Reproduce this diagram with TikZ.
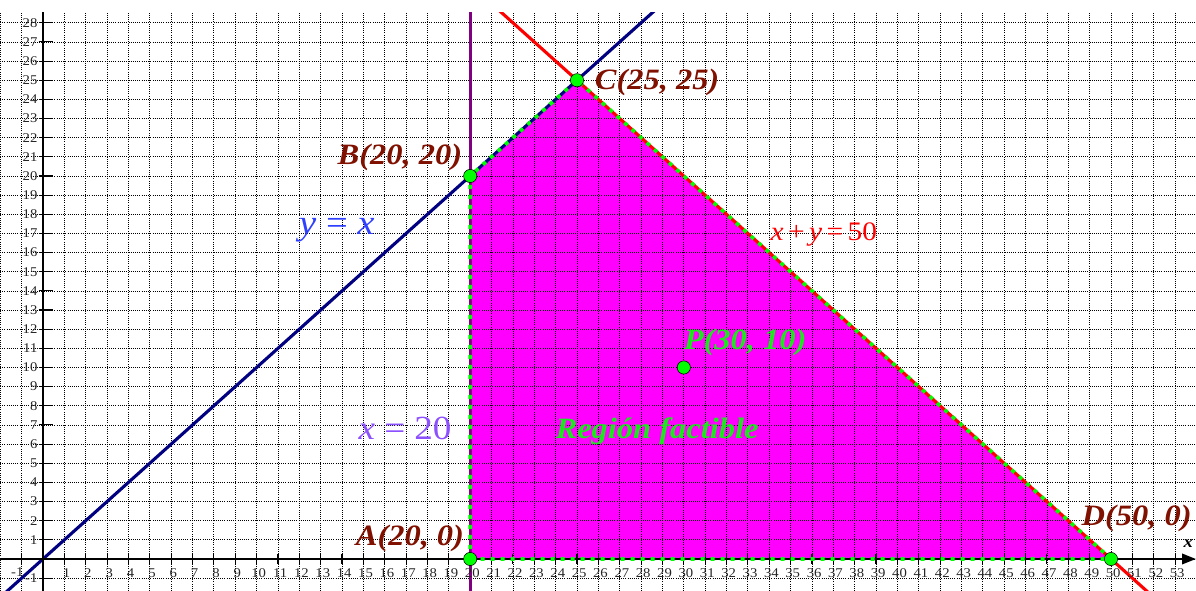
\documentclass[tikz,border=0pt]{standalone}
\usepackage{fontspec}
\setmainfont{Liberation Serif}
\newfontfamily\geofont[FakeStretch=1.1]{Liberation Serif}
\usetikzlibrary{arrows.meta}
\definecolor{navyline}{RGB}{0,0,128}
\definecolor{redline}{RGB}{255,0,0}
\definecolor{purpleline}{RGB}{128,0,128}
\definecolor{regionfill}{RGB}{255,0,255}
\definecolor{limegreen}{RGB}{0,255,0}
\definecolor{labelred}{RGB}{128,16,0}
\definecolor{labelblue}{RGB}{48,64,255}
\definecolor{labelviolet}{RGB}{140,80,255}
\definecolor{labelgreen}{RGB}{30,230,30}
\tikzset{
  gridline/.style={densely dotted, line width=0.55pt},
  vertexdot/.style={circle, fill=limegreen, draw=black, line width=0.4pt, minimum size=0.33cm, inner sep=0pt},
  vertexlabel/.style={font=\geofont\bfseries\itshape\fontsize{21}{21}\selectfont, text=labelred},
  eqlabel/.style={font=\geofont\fontsize{#1}{#1}\selectfont},
  ticklabel/.style={font=\geofont\fontsize{9.5}{9.5}\selectfont, text=black!85, inner sep=0pt}
}

\begin{document}
\begin{tikzpicture}[x=0.534cm, y=0.47875cm, >=Stealth]
  \useasboundingbox (-2.013,-1.671) rectangle (53.98,29.19);
  \coordinate (A) at (20,0);
  \coordinate (B) at (20,20);
  \coordinate (C) at (25,25);
  \coordinate (D) at (50,0);
  % feasible region
  \fill[regionfill] (A) -- (B) -- (C) -- (D) -- cycle;
  \begin{scope}
    \clip (-2.013,-1.671) rectangle (53.98,28.56);
    \foreach \x in {-2,...,53} { \draw[gridline] (\x,-1.671) -- (\x,28.56); }
    \foreach \y in {-1,...,28} { \draw[gridline] (-2.013,\y) -- (53.98,\y); }
    \draw[navyline, line width=2.2pt] (-2,-2) -- (29,29);
    \draw[redline, line width=2.2pt] (21,29) -- (52,-2);
    \draw[purpleline, line width=2.2pt] (20,-2) -- (20,29);
  \end{scope}
  % axes
  \draw[line width=1.6pt, -{Triangle[length=3.5mm,width=2.6mm]}] (-2.013,0) -- (53.98,0);
  \draw[line width=1.6pt] (0,-1.671) -- (0,28.56);
  \node[ticklabel, anchor=north] (xtickneg) at (-1.2,-0.45) {-1};
  \foreach \x in {1,2,...,53} {
    \draw[line width=0.8pt] (\x,-0.25) -- (\x,0.25);
    \node[ticklabel, anchor=north] (xtick\x) at (\x+0.1,-0.5) {\x}; }
  \draw[line width=0.8pt] (-1,-0.25) -- (-1,0.25);
  \foreach \y in {-1,1,2,...,28} {
    \draw[line width=0.8pt] (-0.2,\y) -- (0.45,\y);
    \node[ticklabel, anchor=east] (ytick\y) at (-0.25,\y) {\y}; }
  \node[font=\geofont\bfseries\itshape\fontsize{12}{12}\selectfont] (xname) at (53.62,0.8) {x};
  % boundary and vertices
  \draw[limegreen, line width=2.6pt, dash pattern=on 0.1cm off 0.15cm] (A) -- (B) -- (C) -- (D) -- cycle;
  \foreach \p in {A,B,C,D} { \node[vertexdot] (dot\p) at (\p) {}; }
  \node[vertexdot] (P) at (30,10) {};
  \node[vertexlabel] (labelA) at (17.18,1.10) {A(20, 0)};
  \node[vertexlabel] (labelB) at (16.71,20.99) {B(20, 20)};
  \node[vertexlabel] (labelC) at (28.75,24.91) {C(25, 25)};
  \node[vertexlabel] (labelD) at (51.2,2.1) {D(50, 0)};
  \node[vertexlabel, text=labelgreen] (labelP) at (32.87,11.33) {P(30, 10)};
  \node[vertexlabel, text=labelgreen] (regionname) at (28.75,6.68) {Región factible};
  % equations
  \node[eqlabel=25, text=labelblue] (eqdiag) at (13.76,17.18) {\textit{y} = \textit{x}};
  \node[eqlabel=24, text=labelviolet] (eqvert) at (16.95,6.84) {\textit{x} = 20};
  \node[eqlabel=19, text=redline] (eqsum) at (36.56,16.92) {\textit{x}\,+\,\textit{y}\,=\,50};
\end{tikzpicture}
\end{document}
